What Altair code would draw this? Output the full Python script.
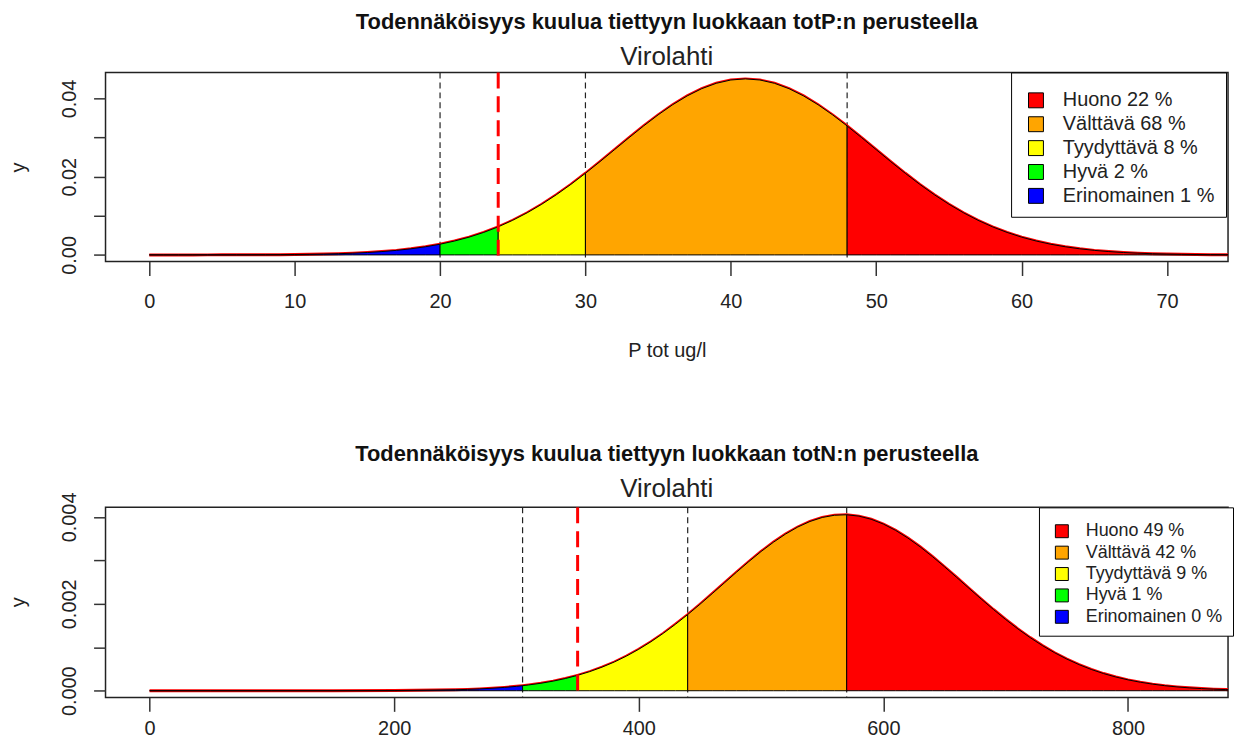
import altair as alt
import pandas as pd

# ---------------- data ----------------
CLASSES = ["Huono", "Välttävä", "Tyydyttävä", "Hyvä", "Erinomainen"]
COLORS = ["#FF0000", "#FFA500", "#FFFF00", "#00FF00", "#0000FF"]

# totP panel
P_X = list(range(0, 76))
P_Y = [0.000001, 0.0000017, 0.0000029, 0.0000047, 0.0000075, 0.0000119, 0.0000188,
       0.0000291, 0.0000445, 0.0000673, 0.0001, 0.000148, 0.000215, 0.000309, 0.00044,
       0.00061, 0.00085, 0.00116, 0.00156, 0.00208, 0.00273, 0.00355, 0.00454, 0.00575,
       0.00717, 0.00885, 0.01078, 0.01296, 0.01538, 0.01803, 0.02086, 0.02384, 0.02690,
       0.02997, 0.03296, 0.03580, 0.03839, 0.04065, 0.04250, 0.04387, 0.04472, 0.04500,
       0.04472, 0.04387, 0.04250, 0.04065, 0.03839, 0.03580, 0.03296, 0.02997, 0.02690,
       0.02384, 0.02086, 0.01803, 0.01538, 0.01296, 0.01078, 0.00885, 0.00717, 0.00575,
       0.00454, 0.00355, 0.00273, 0.00208, 0.00156, 0.00116, 0.00085, 0.00061, 0.00044,
       0.00031, 0.000215, 0.000148, 0.0001, 0.0000673, 0.0000445, 0.0000291]
P_BREAKS = [20, 24, 30, 48]          # class limits (low -> high)
P_PCT = [22, 68, 8, 2, 1]            # Huono, Välttävä, Tyydyttävä, Hyvä, Erinomainen
P_DASH_BLACK = [20, 30, 48]
P_DASH_RED = [24]
P_XTICKS = [0, 10, 20, 30, 40, 50, 60, 70]
P_YTICKS = [0.0, 0.01, 0.02, 0.03, 0.04]

# totN panel
N_X = [0, 50, 100, 150, 200, 250, 260, 270, 280, 290, 300, 305, 310, 320, 330, 340, 350,
       360, 370, 380, 390, 400, 410, 420, 430, 440, 450, 460, 470, 480, 490, 500, 510,
       520, 530, 540, 550, 560, 570, 580, 590, 600, 610, 620, 630, 640, 650, 660, 670,
       680, 690, 700, 710, 720, 730, 740, 750, 760, 770, 780, 790, 800, 810, 820, 830,
       840, 850, 860, 870, 880, 889]
N_Y = [0.0, 0.0, 0.0000001, 0.0000005, 0.0000039, 0.0000225, 0.000031, 0.0000423,
       0.0000572, 0.0000766, 0.000101, 0.000116, 0.000133, 0.000172, 0.000221, 0.000281,
       0.000354, 0.000440, 0.000543, 0.000661, 0.000798, 0.000954, 0.001128, 0.001320,
       0.001529, 0.001752, 0.001988, 0.002233, 0.002481, 0.002730, 0.002972, 0.003203,
       0.003415, 0.003605, 0.003767, 0.003895, 0.003987, 0.004038, 0.004049, 0.004018,
       0.003946, 0.003835, 0.003690, 0.003514, 0.003312, 0.003089, 0.002852, 0.002606,
       0.002357, 0.002110, 0.001869, 0.001639, 0.001422, 0.001222, 0.001039, 0.000874,
       0.000728, 0.000600, 0.000489, 0.000395, 0.000316, 0.000250, 0.000196, 0.000152,
       0.000116, 0.0000882, 0.0000663, 0.0000493, 0.0000363, 0.0000264, 0.0000197]
N_BREAKS = [305, 350, 440, 570]
N_PCT = [49, 42, 9, 1, 0]
N_DASH_BLACK = [305, 440, 570]
N_DASH_RED = [350]
N_XTICKS = [0, 200, 400, 600, 800]
N_YTICKS = [0.0, 0.001, 0.002, 0.003, 0.004]

FONT = "Liberation Sans"
PLOT_W = 1128


def class_table(xs, ys, breaks, pct):
    labels = [f"{c} {p} %" for c, p in zip(CLASSES, pct)]
    lows = [min(xs)] + breaks
    highs = breaks + [max(xs)]
    order = list(reversed(labels))
    rows = []
    for lab, lo, hi in zip(order, lows, highs):
        for x, y in zip(xs, ys):
            if lo <= x <= hi:
                rows.append({"x": x, "y": y, "cls": lab})
    return pd.DataFrame(rows), labels


def panel(title, xs, ys, breaks, pct, dash_black, dash_red, xdom, ydom, xticks, yticks,
          yfmt, hidden, xtitle, legend_opts, label_pad, title_offset, height):
    df, labels = class_table(xs, ys, breaks, pct)
    curve = pd.DataFrame({"x": xs, "y": ys})

    axis_kw = dict(values=xticks, tickSize=14, tickColor="#333", tickWidth=1.5,
                   domain=False, grid=False, labelFontSize=20, labelFont=FONT,
                   labelColor="#222", labelPadding=label_pad, labelBaseline="alphabetic",
                   labelFlush=False, labelOverlap=False)
    if xtitle:
        xaxis = alt.Axis(title=xtitle, titleFontSize=20, titleFont=FONT,
                         titleFontWeight="normal", titleColor="#222", titleY=95,
                         titleBaseline="alphabetic", **axis_kw)
    else:
        xaxis = alt.Axis(title=None, **axis_kw)
    hide_expr = " || ".join([f"datum.label == '{h}'" for h in hidden])
    yaxis = alt.Axis(values=yticks, format=yfmt, tickSize=12, tickColor="#333",
                     tickWidth=1.5, domain=False, grid=False, labelFontSize=20,
                     labelFont=FONT, labelColor="#222", labelAngle=270,
                     labelAlign="center", labelBaseline="alphabetic", labelPadding=18,
                     labelExpr=f"({hide_expr}) ? '' : datum.label", labelOverlap=False,
                     labelFlush=False,
                     title="y", titleFontSize=20, titleFont=FONT, titleFontWeight="normal",
                     titleColor="#222", titleAngle=270, titleX=-77, titleY=95,
                     titleAlign="center", titleBaseline="bottom")
    X = alt.X("x:Q", scale=alt.Scale(domain=xdom, nice=False, zero=False), axis=xaxis)
    Y = alt.Y("y:Q", scale=alt.Scale(domain=ydom, nice=False, zero=False), axis=yaxis)

    rules_black = alt.Chart(pd.DataFrame({"x": dash_black})).mark_rule(
        color="#222", strokeWidth=1.2, strokeDash=[6, 4]).encode(x=X)
    red_line = alt.Chart(curve).mark_line(color="#FF0000", strokeWidth=3, clip=True).encode(
        x=X, y=Y)
    areas = alt.Chart(df).mark_area(stroke="black", strokeWidth=1, opacity=1,
                                    clip=True).encode(
        x=X, y=Y, y2=alt.datum(0),
        color=alt.Color("cls:N", scale=alt.Scale(domain=labels, range=COLORS),
                        legend=alt.Legend(**legend_opts)))
    rules_red = alt.Chart(pd.DataFrame({"x": dash_red})).mark_rule(
        color="#FF0000", strokeWidth=3, strokeDash=[16, 8]).encode(x=X)

    return alt.layer(rules_black, red_line, areas, rules_red).properties(
        width=PLOT_W, height=height,
        title=alt.TitleParams(text=title, subtitle="Virolahti", fontSize=22,
                              fontWeight="bold", font=FONT, color="#111",
                              subtitleFontSize=26, subtitleFont=FONT,
                              subtitleColor="#222", subtitlePadding=10, anchor="middle",
                              frame="group", offset=title_offset))


leg1 = dict(title="\u00a0", titleFontSize=2, titlePadding=5, orient="none",
            legendX=910, legendY=0, direction="vertical",
            strokeColor="black", fillColor="white", padding=11, symbolType="square",
            symbolSize=225, symbolStrokeColor="black", symbolStrokeWidth=1,
            symbolOffset=4, labelOffset=17, labelFontSize=20, labelFont=FONT,
            labelColor="#222", rowPadding=4, labelLimit=400)
leg2 = dict(title="\u00a0", titleFontSize=2, titlePadding=3, orient="none",
            legendX=938, legendY=0, direction="vertical",
            strokeColor="black", fillColor="white", padding=10, symbolType="square",
            symbolSize=169, symbolStrokeColor="black", symbolStrokeWidth=1,
            symbolOffset=4, labelOffset=15, labelFontSize=18, labelFont=FONT,
            labelColor="#222", rowPadding=3.5, labelLimit=400)

p1 = panel("Todennäköisyys kuulua tiettyyn luokkaan totP:n perusteella", P_X, P_Y,
           P_BREAKS, P_PCT, P_DASH_BLACK, P_DASH_RED, [-3.01, 74.2], [-0.0017, 0.04664],
           P_XTICKS, P_YTICKS, ".2f", ["0.01", "0.03"], "P tot ug/l", leg1,
           label_pad=32, title_offset=0, height=190)
p2 = panel("Todennäköisyys kuulua tiettyyn luokkaan totN:n perusteella", N_X, N_Y,
           N_BREAKS, N_PCT, N_DASH_BLACK, N_DASH_RED, [-36, 881.8], [-0.000154, 0.00422],
           N_XTICKS, N_YTICKS, ".3f", ["0.001", "0.003"], None, leg2,
           label_pad=23, title_offset=-11, height=191)

chart = alt.vconcat(p1, p2, spacing=81).resolve_scale(
    x="independent", y="independent", color="independent").resolve_legend(
    color="independent").properties(
    padding={"left": 0, "top": 0, "right": 0, "bottom": -1}).configure(
    font=FONT).configure_view(stroke="#222", strokeWidth=1.5)

chart.save("out.html", embed_options={"renderer": "svg", "actions": False})
